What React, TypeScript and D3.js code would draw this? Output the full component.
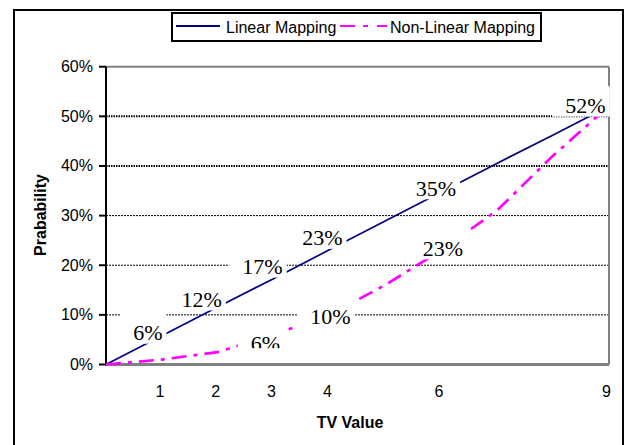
import React from "react";
import * as d3 from "d3";

const categories = [0, 1, 2, 3, 4, 5, 6, 7, 8, 9];
const tickLabels = ["", "1", "2", "3", "4", "", "6", "", "", "9"];
const yTicks = [0, 0.1, 0.2, 0.3, 0.4, 0.5, 0.6];
const linearValues = [0, 0.058, 0.116, 0.173, 0.231, 0.289, 0.347, 0.405, 0.462, 0.52];
const nonLinearValues = [0, 0.01, 0.025, 0.06, 0.1, 0.16, 0.23, 0.31, 0.42, 0.52];
const seriesNames = ["Linear Mapping", "Non-Linear Mapping"];
// which points carry a data label
const linearLabelIdx = [1, 2, 3, 4, 6, 9];
const nonLinearLabelIdx = [3, 4, 6, 9];

// layout offsets for labels (text centre relative to point)
const linearLabelOffsets = [[-14, -3], [-16, -7.5], [-11, -12], [-7, -12], [-5, -4], [-23, -1]];
const nonLinearLabelOffsets = [[-8, 9], [1, 1.5], [2, -2], [-23, -1]];
const nonLinearBoxBottom = [4.5, 11, 11, 11];

const W = 626, H = 445;
const left = 106, right = 609, top = 66.7, bottom = 364.5;

export default function App() {
  const x = d3.scaleLinear().domain([0, 9]).range([left, 608.5]);
  const y = d3.scaleLinear().domain([0, 0.6]).range([bottom, top]);
  const line = d3.line<number>().x((_, i) => x(categories[i])).y((d) => y(d));

  const sans = "'Liberation Sans', Arial, sans-serif";
  const serif = "'Liberation Serif', 'Times New Roman', serif";

  type L = { key: string; cx: number; cy: number; text: string; bb: number };
  const labels: L[] = [];
  linearLabelIdx.forEach((idx, k) => {
    const v = linearValues[idx];
    labels.push({
      key: "l" + k,
      cx: x(categories[idx]) + linearLabelOffsets[k][0],
      cy: y(v) + linearLabelOffsets[k][1],
      text: Math.round(v * 100) + "%",
      bb: 11,
    });
  });
  nonLinearLabelIdx.forEach((idx, k) => {
    const v = nonLinearValues[idx];
    labels.push({
      key: "n" + k,
      cx: x(categories[idx]) + nonLinearLabelOffsets[k][0],
      cy: y(v) + nonLinearLabelOffsets[k][1],
      text: Math.round(v * 100) + "%",
      bb: nonLinearBoxBottom[k],
    });
  });

  return (
    <svg width={W} height={H} style={{ position: "absolute", left: 0, top: 0, background: "#fff" }}>
      <defs>
        {labels.map((lb) => {
          const tw = (lb.text.length - 1) * 11 + 18.3;
          return (
            <clipPath id={"clip-" + lb.key} key={lb.key}>
              <rect x={lb.cx - tw / 2 - 13} y={lb.cy - 19} width={tw + 17} height={19 + lb.bb} />
            </clipPath>
          );
        })}
      </defs>
      {/* outer frame */}
      <rect x={14} y={10} width={609} height={445} fill="#fff" stroke="#000" strokeWidth={2} />

      {/* gridlines */}
      {yTicks.slice(1, 6).map((t) => (
        <line
          key={t}
          x1={left}
          x2={right}
          y1={y(t)}
          y2={y(t)}
          stroke="#000"
          strokeWidth={t >= 0.4 ? 2 : 1}
          strokeDasharray={t >= 0.4 ? "1.5,1" : "2,1"}
        />
      ))}

      {/* plot border */}
      <line x1={left} x2={right} y1={top} y2={top} stroke="#808080" strokeWidth={2} />
      <line x1={right} x2={right} y1={top} y2={bottom} stroke="#808080" strokeWidth={2} />
      <line x1={left} x2={right} y1={bottom} y2={bottom} stroke="#808080" strokeWidth={3} />
      <line x1={left} x2={left} y1={top} y2={bottom + 1} stroke="#000" strokeWidth={2} />
      {yTicks.map((t) => (
        <line key={"tk" + t} x1={99} x2={left} y1={y(t)} y2={y(t)} stroke="#000" strokeWidth={2} />
      ))}

      {/* y tick labels */}
      {yTicks.map((t) => (
        <text key={"yl" + t} x={93} y={y(t) + 5.5} textAnchor="end" fontFamily={sans} fontSize={16} fill="#000">
          {Math.round(t * 100) + "%"}
        </text>
      ))}

      {/* x tick labels */}
      {categories.map((c, i) =>
        tickLabels[i] ? (
          <text key={"xl" + c} x={x(c) - 2} y={397} textAnchor="middle" fontFamily={sans} fontSize={16} fill="#000">
            {tickLabels[i]}
          </text>
        ) : null
      )}

      {/* axis titles */}
      <text x={350} y={428} textAnchor="middle" fontFamily={sans} fontSize={16} fontWeight="bold">
        TV Value
      </text>
      <text
        transform="translate(46,215) rotate(-90)"
        textAnchor="middle"
        fontFamily={sans}
        fontSize={16}
        fontWeight="bold"
      >
        Prabability
      </text>

      {/* series */}
      <path d={line(linearValues) || ""} fill="none" stroke="#000080" strokeWidth={1.7} />
      <path
        d={line(nonLinearValues) || ""}
        fill="none"
        stroke="#FF00FF"
        strokeWidth={2.7}
        strokeDasharray="15,7,4,7"
      />

      {/* data labels */}
      {labels.map((lb) => {
        const tw = (lb.text.length - 1) * 11 + 18.3;
        return (
          <g key={"lb" + lb.key}>
            <rect x={lb.cx - tw / 2 - 13} y={lb.cy - 19} width={tw + 17} height={19 + lb.bb} fill="#fff" />
            <text
              x={lb.cx}
              y={lb.cy + 7.5}
              textAnchor="middle"
              fontFamily={serif}
              fontSize={22}
              fill="#000"
              clipPath={`url(#clip-${lb.key})`}
            >
              {lb.text}
            </text>
          </g>
        );
      })}

      {/* legend */}
      <rect x={172} y={13} width={369} height={28} fill="#fff" stroke="#000" strokeWidth={2} />
      <line x1={176} x2={220} y1={26} y2={26} stroke="#000080" strokeWidth={2} />
      <text x={226} y={33} fontFamily={sans} fontSize={16} fill="#000">
        {seriesNames[0]}
      </text>
      <line x1={340} x2={387} y1={26} y2={26} stroke="#FF00FF" strokeWidth={2} strokeDasharray="15,8,5,9" />
      <text x={390} y={33} fontFamily={sans} fontSize={16} fill="#000">
        {seriesNames[1]}
      </text>
    </svg>
  );
}
